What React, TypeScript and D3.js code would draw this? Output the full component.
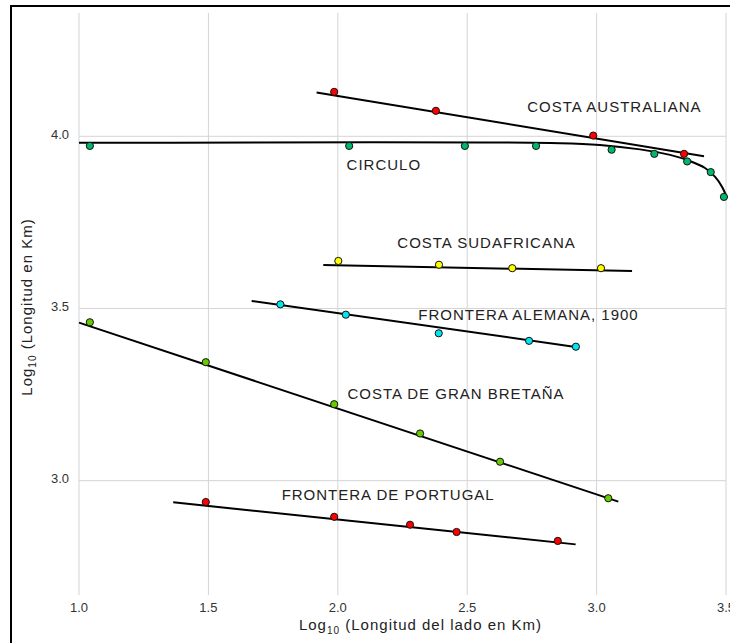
import React from "react";
import * as d3 from "d3";

// ---- data (log10 values) ----
const xTicks = [1.0, 1.5, 2.0, 2.5, 3.0, 3.5];
const yTicks = [3.0, 3.5, 4.0];

const ausPtsX = [1.986, 2.379, 2.987, 3.338];
const ausPtsY = [4.129, 4.074, 4.002, 3.949];
const ausLineX = [1.918, 3.415];
const ausLineY = [4.127, 3.942];

const circPtsX = [1.042, 2.044, 2.491, 2.766, 3.058, 3.223, 3.35, 3.441, 3.492];
const circPtsY = [3.972, 3.972, 3.972, 3.972, 3.961, 3.949, 3.927, 3.896, 3.824];
const circLineX = [1.0, 2.859, 3.013, 3.168, 3.284, 3.361, 3.419, 3.458, 3.485, 3.504];
const circLineY = [3.981, 3.98, 3.975, 3.962, 3.946, 3.928, 3.908, 3.882, 3.853, 3.821];

const saPtsX = [2.002, 2.391, 2.674, 3.017];
const saPtsY = [3.638, 3.627, 3.617, 3.617];
const saLineX = [1.944, 3.137];
const saLineY = [3.626, 3.609];

const alePtsX = [1.778, 2.031, 2.39, 2.739, 2.92];
const alePtsY = [3.512, 3.482, 3.428, 3.406, 3.389];
const aleLineX = [1.667, 2.932];
const aleLineY = [3.522, 3.387];

const gbPtsX = [1.042, 1.49, 1.986, 2.318, 2.627, 3.045];
const gbPtsY = [3.46, 3.344, 3.222, 3.137, 3.055, 2.949];
const gbLineX = [1.0, 3.084];
const gbLineY = [3.459, 2.939];

const porPtsX = [1.49, 1.986, 2.279, 2.459, 2.85];
const porPtsY = [2.938, 2.895, 2.872, 2.851, 2.825];
const porLineX = [1.364, 2.919];
const porLineY = [2.937, 2.815];

const labelNames = [
  "COSTA AUSTRALIANA",
  "CIRCULO",
  "COSTA SUDAFRICANA",
  "FRONTERA ALEMANA, 1900",
  "COSTA DE GRAN BRETAÑA",
  "FRONTERA DE PORTUGAL",
];
const labelX = [2.732, 2.034, 2.23, 2.311, 2.037, 1.783];
const labelY = [4.071, 3.903, 3.676, 3.466, 3.238, 2.945];

const seriesColors = ["#ff0000", "#00b86b", "#ffff00", "#00e5f0", "#66cc00", "#ff0000"];

const W = 730;
const H = 643;

export default function App() {
  const x = d3.scaleLinear().domain([1, 3.5]).range([79, 726]);
  const y = d3.scaleLinear().domain([2.668, 4.358]).range([595, 13]);

  const zip = (xs: number[], ys: number[]) => xs.map((v, i) => [v, ys[i]] as [number, number]);

  const straight = d3
    .line<[number, number]>()
    .x((d) => x(d[0]))
    .y((d) => y(d[1]));
  const curved = d3
    .line<[number, number]>()
    .x((d) => x(d[0]))
    .y((d) => y(d[1]))
    .curve(d3.curveCatmullRom.alpha(0.5));

  const series = [
    { pts: zip(ausPtsX, ausPtsY), line: zip(ausLineX, ausLineY), gen: straight },
    { pts: zip(circPtsX, circPtsY), line: zip(circLineX, circLineY), gen: curved },
    { pts: zip(saPtsX, saPtsY), line: zip(saLineX, saLineY), gen: straight },
    { pts: zip(alePtsX, alePtsY), line: zip(aleLineX, aleLineY), gen: straight },
    { pts: zip(gbPtsX, gbPtsY), line: zip(gbLineX, gbLineY), gen: straight },
    { pts: zip(porPtsX, porPtsY), line: zip(porLineX, porLineY), gen: straight },
  ];

  const [x0, x1] = x.range();
  const [yb, yt] = y.range();
  const font = "'Liberation Sans', Arial, sans-serif";

  return (
    <svg
      width={W}
      height={H}
      style={{ position: "absolute", left: 0, top: 0, background: "#fff" }}
      fontFamily={font}
    >
      <rect x={0} y={0} width={W} height={H} fill="#fff" />
      {/* grid */}
      {xTicks.map((t) => (
        <line key={"gx" + t} x1={x(t)} x2={x(t)} y1={yt} y2={yb} stroke="#d4d4d4" strokeWidth={1} />
      ))}
      {yTicks.map((t) => (
        <line key={"gy" + t} x1={x0} x2={x1} y1={y(t)} y2={y(t)} stroke="#d4d4d4" strokeWidth={1} />
      ))}
      {/* tick labels */}
      {xTicks.map((t) => (
        <text key={"tx" + t} x={x(t)} y={612} textAnchor="middle" fontSize={13} fill="#333">
          {d3.format(".1f")(t)}
        </text>
      ))}
      {yTicks.map((t) => (
        <text key={"ty" + t} x={69} y={y(t) + 2.5} textAnchor="end" fontSize={13} fill="#333">
          {d3.format(".1f")(t)}
        </text>
      ))}
      {/* lines */}
      {series.map((s, i) => (
        <path key={"l" + i} d={s.gen(s.line) || ""} fill="none" stroke="#000" strokeWidth={2} />
      ))}
      {/* points */}
      {series.map((s, i) =>
        s.pts.map((p, j) => (
          <circle
            key={"p" + i + "-" + j}
            cx={x(p[0])}
            cy={y(p[1])}
            r={3.6}
            fill={seriesColors[i]}
            stroke="#111"
            strokeWidth={1}
          />
        ))
      )}
      {/* series labels */}
      {labelNames.map((n, i) => (
        <text key={"lab" + i} x={x(labelX[i])} y={y(labelY[i])} fontSize={15} letterSpacing={1} fill="#222">
          {n}
        </text>
      ))}
      {/* axis titles */}
      <text x={420.5} y={630} textAnchor="middle" fontSize={15} letterSpacing={1} fill="#222">
        Log
        <tspan fontSize={10} dy={4}>10</tspan>
        <tspan dy={-4}> (Longitud del lado en Km)</tspan>
      </text>
      <text
        transform={`translate(32, ${(yt + yb) / 2 + 3}) rotate(-90)`}
        textAnchor="middle"
        fontSize={15}
        letterSpacing={1}
        fill="#222"
      >
        Log
        <tspan fontSize={10} dy={4}>10</tspan>
        <tspan dy={-4}> (Longitud en Km)</tspan>
      </text>
      {/* frame */}
      <rect x={11} y={6} width={900} height={900} fill="none" stroke="#000" strokeWidth={2} />
    </svg>
  );
}
